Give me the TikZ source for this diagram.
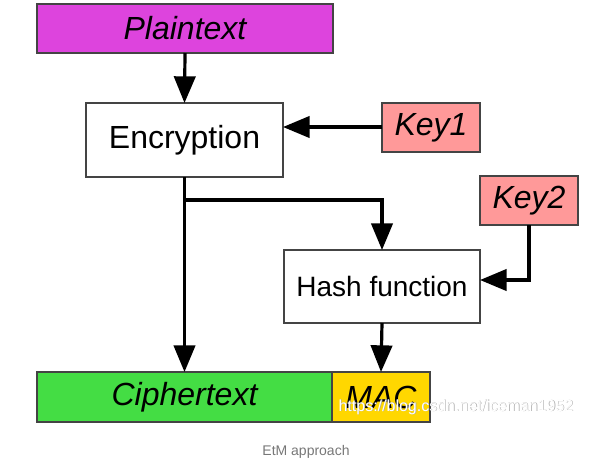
\documentclass[tikz,border=0pt]{standalone}
\usepackage{fontspec}
\setmainfont{Liberation Sans}
\usetikzlibrary{arrows.meta,calc}
\definecolor{plainfill}{HTML}{DD44DD}
\definecolor{keyfill}{HTML}{FF9999}
\definecolor{cipherfill}{HTML}{44DD44}
\definecolor{macfill}{HTML}{FFD700}
\definecolor{boxline}{HTML}{444444}
\definecolor{captiongray}{HTML}{777777}
\begin{document}
\begin{tikzpicture}[x=0.75pt,y=-0.75pt,
  box/.style={draw=boxline,line width=0.8pt,inner sep=0pt,outer sep=0pt,
    text=black,font=\fontsize{24}{27}\selectfont},
  itbox/.style={box,font=\fontsize{24}{27}\selectfont\itshape},
  flow/.style={line width=2.4pt,-{Triangle[length=20pt,width=16pt]}}]
\useasboundingbox (0,0) rectangle (606,465);

% data blocks and processing steps
\node[itbox,fill=plainfill,minimum width=222pt,minimum height=36.75pt]
  (plain) at (185,28.5) {Plaintext};
\node[box,fill=white,minimum width=147.75pt,minimum height=55.5pt]
  (enc) at (184.5,140) {Encryption};
\node[itbox,fill=keyfill,minimum width=73.5pt,minimum height=36.75pt]
  (key1) at (431,127.5) {Key1};
\node[itbox,fill=keyfill,minimum width=73.5pt,minimum height=36.75pt]
  (key2) at (529,200.5) {Key2};
\node[box,fill=white,minimum width=147pt,minimum height=54.75pt,font=\fontsize{21}{24}\selectfont]
  (hash) at (382,286.5) {Hash function};
\node[itbox,fill=cipherfill,minimum width=221.25pt,minimum height=37.5pt]
  (cipher) at (184.5,397) {Ciphertext};
\node[itbox,fill=macfill,minimum width=73.5pt,minimum height=37.5pt]
  (mac) at (381,397) {MAC};

% junction points
\coordinate (split) at (185,200);
\coordinate (k1in) at (283,127);
\coordinate (k2in) at (480,280);

% connectors
\draw[flow] (plain.south) -- (enc.north);
\draw[flow] (key1.west |- k1in) -- (k1in);
\draw[flow] (enc.south) -- (cipher.north);
\draw[flow] (split) -| (hash.north);
\draw[flow] (key2.south) |- (k2in);
\draw[flow] (hash.south) -- (mac.north);

% watermark
\node[text=gray!70,font=\fontsize{12}{14}\selectfont] (wmshadow) at (456.6,407.6) {https://blog.csdn.net/iceman1952};
\node[text=white,font=\fontsize{12}{14}\selectfont] (wm) at (456,407) {https://blog.csdn.net/iceman1952};

% caption
\node[text=captiongray,font=\fontsize{10.5}{12}\selectfont] (caption) at (306,452) {EtM approach};
\end{tikzpicture}
\end{document}
